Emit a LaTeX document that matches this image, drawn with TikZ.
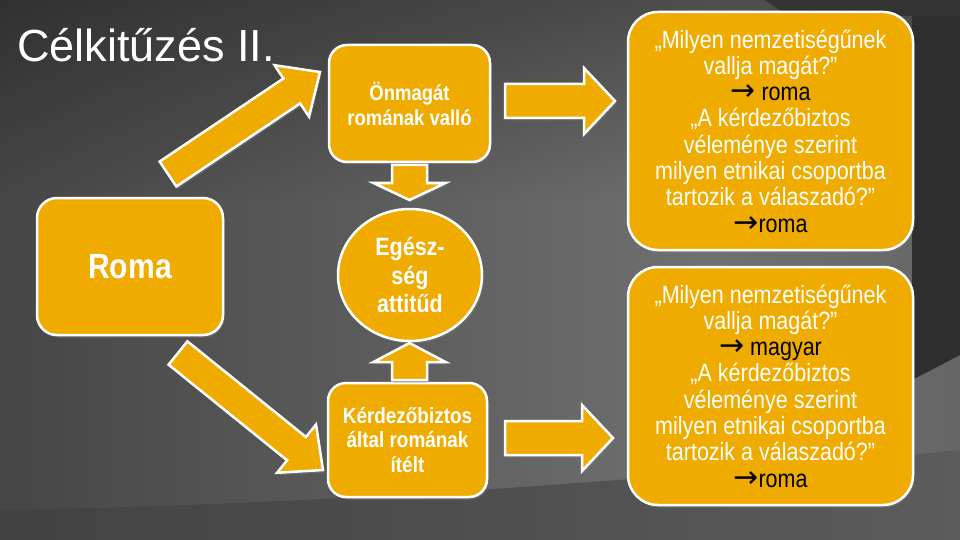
\documentclass[tikz,border=0pt]{standalone}
\usepackage{fontspec}
\setmainfont{Liberation Sans}
\newfontfamily\narrowsans[FakeStretch=0.86]{Liberation Sans}
\newfontfamily\arrowfont{DejaVu Sans}
\usetikzlibrary{calc,shapes.geometric,shadows,fadings}

\definecolor{slideorange}{RGB}{240,171,0}
\definecolor{bgmid}{RGB}{70,70,70}
\definecolor{bglight}{RGB}{112,112,112}
\definecolor{bgright}{RGB}{92,92,92}
\definecolor{bgedge}{RGB}{62,62,62}
\definecolor{bandleft}{RGB}{66,66,66}
\definecolor{bandright}{RGB}{92,92,92}
\pgfdeclarehorizontalshading{slidebg}{100bp}{color(0bp)=(black); color(25bp)=(bgmid); color(62bp)=(bglight); color(88bp)=(bgright); color(100bp)=(bgedge)}

\newcommand{\toarr}{{\color{black}\arrowfont\fontsize{30}{26.3}\selectfont →}}

% fat arrow from tail coordinate #1 to tip #2: shaft half width, head half width, head length
\newcommand{\fatarrow}[5]{%
  \path[fatfill] let \p1=(#1), \p2=(#2), \n1={atan2(\y2-\y1,\x2-\x1)}, \n2={veclen(\x2-\x1,\y2-\y1)} in
    [shift={(\p1)}, rotate=\n1] (0,#3) -- (\n2-#5,#3) -- (\n2-#5,#4) -- (\n2,0)
    -- (\n2-#5,-#4) -- (\n2-#5,-#3) -- (0,-#3) -- cycle;}

\begin{document}
\begin{tikzpicture}[x=1pt,y=-1pt,
  slideshadow/.style={drop shadow={opacity=0.45,shadow xshift=1.5pt,shadow yshift=-2.5pt}},
  slidebox/.style={draw=white,line width=2.5pt,fill=slideorange,text=white,align=center,
    inner sep=0pt,slideshadow},
  fatfill/.style={draw=white,line width=2.5pt,fill=slideorange,line join=miter,slideshadow},
  answer/.style={slidebox,rounded corners=30pt,minimum width=285,minimum height=238,
    font=\narrowsans\fontsize{25}{26.3}\selectfont}]
  \useasboundingbox (0,0) rectangle (960,540);
  % background
  \shade[shading=slidebg] (0,0) rectangle (960,540);
  \fill[black,opacity=0.3,path fading=south] (0,0) rectangle (960,200);
  \shade[left color=bandleft,right color=bandright]
    (0,510) .. controls (300,505) and (600,485) .. (960,450) -- (960,540) -- (0,540) -- cycle;
  \fill[bgedge!75!black] (912,0) -- (960,0) -- (960,355) -- (912,380) -- cycle;
  \fill[black!80] (765,0) -- (960,0) -- (960,16) -- (788,16) -- cycle;

  \node[anchor=base west,inner sep=0pt,text=white,font=\fontsize{45}{54}\selectfont]
    (title) at (17,62) {Célkitűzés II.};

  \node[slidebox,rounded corners=20pt,minimum width=186,minimum height=137,
    font=\narrowsans\bfseries\fontsize{35}{40}\selectfont] (roma) at (130,266.5) {Roma};
  \node[slidebox,rounded corners=18pt,minimum width=161,minimum height=117,
    font=\narrowsans\bfseries\fontsize{21.5}{25}\selectfont] (onmagat) at (409.5,103.5)
    {Önmagát\\romának valló};
  \node[slidebox,ellipse,minimum width=144,minimum height=132,
    font=\narrowsans\bfseries\fontsize{25}{28.5}\selectfont] (egeszseg) at (410,275)
    {Egész-\\ség\\attitűd};
  \node[slidebox,rounded corners=18pt,minimum width=159,minimum height=114,
    font=\narrowsans\bfseries\fontsize{22}{24.5}\selectfont] (kerdezo) at (407.5,440)
    {Kérdezőbiztos\\által romának\\ítélt};
  \node[answer] (valasz1) at (770.5,131)
    {„Milyen nemzetiségűnek\\vallja magát?”\\\toarr{} {\color{black}roma}\\„A kérdezőbiztos\\
     véleménye szerint\\milyen etnikai csoportba\\tartozik a válaszadó?”\\\toarr{\color{black}roma}};
  \node[answer] (valasz2) at (770.5,386)
    {„Milyen nemzetiségűnek\\vallja magát?”\\\toarr{} {\color{black}magyar}\\„A kérdezőbiztos\\
     véleménye szerint\\milyen etnikai csoportba\\tartozik a válaszadó?”\\\toarr{\color{black}roma}};

  % arrow ends
  \coordinate (upT) at (168,174);   \coordinate (upH) at (320,72);
  \coordinate (dnT) at (178,353);   \coordinate (dnH) at (323,470);
  \coordinate (r1T) at (505,101);   \coordinate (r1H) at (615,101);
  \coordinate (r2T) at (505,438);   \coordinate (r2H) at (613,438);
  \coordinate (v1T) at (409.5,165); \coordinate (v1H) at (409.5,200);
  \coordinate (v2T) at (409.5,380); \coordinate (v2H) at (409.5,343);

  \fatarrow{upT}{upH}{15}{31}{34}
  \fatarrow{dnT}{dnH}{15}{31}{34}
  \fatarrow{r1T}{r1H}{17}{33}{31}
  \fatarrow{r2T}{r2H}{17}{33}{31}
  \fatarrow{v1T}{v1H}{17.5}{36}{17}
  \fatarrow{v2T}{v2H}{17.5}{36}{19}
\end{tikzpicture}
\end{document}
